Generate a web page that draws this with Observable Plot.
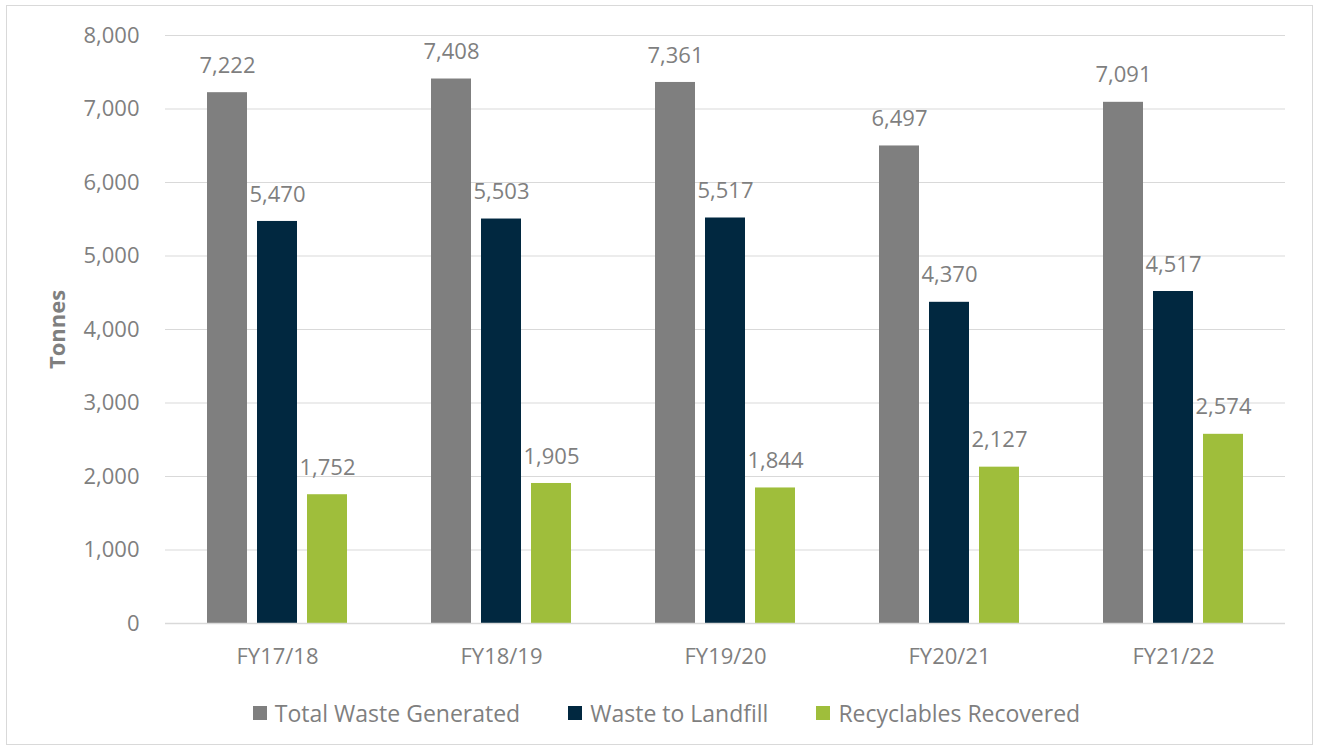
<!DOCTYPE html>
<html>
<head>
<meta charset="utf-8">
<script src="https://cdn.jsdelivr.net/npm/d3@7"></script>
<script src="https://cdn.jsdelivr.net/npm/@observablehq/plot@0.6"></script>
<style>
  html, body { margin: 0; padding: 0; background: #fff; }
  body { width: 1317px; height: 749px; position: relative; overflow: hidden; font-family: "Open Sans", sans-serif; }
  #frame { position: absolute; left: 6px; top: 5px; width: 1305px; height: 738px; border: 1px solid #d9d9d9; }
  #chart { position: absolute; left: 0; top: 0; }
  #legend { position: absolute; left: 7px; top: 691px; width: 1305px; display: flex; justify-content: center; align-items: center; font-size: 23px; color: #7f7f7f; }
  .item { display: flex; align-items: center; margin: 0 24px; }
  .sw { width: 14px; height: 14px; margin-right: 8px; }
</style>
</head>
<body>
<div id="frame">
  <div id="chart"></div>
  <div id="legend"></div>
</div>
<script>
const years = ["FY17/18", "FY18/19", "FY19/20", "FY20/21", "FY21/22"];
const seriesNames = ["Total Waste Generated", "Waste to Landfill", "Recyclables Recovered"];
const totalWaste = [7222, 7408, 7361, 6497, 7091];
const landfill = [5470, 5503, 5517, 4370, 4517];
const recyclables = [1752, 1905, 1844, 2127, 2574];
const colors = ["#7f7f7f", "#012840", "#9fbe3b"];
const yTicks = [0, 1000, 2000, 3000, 4000, 5000, 6000, 7000, 8000];

const seriesValues = [totalWaste, landfill, recyclables];
const data = [];
years.forEach((y, i) => {
  seriesNames.forEach((s, j) => data.push({year: y, series: s, value: seriesValues[j][i]}));
});

const fmt = d3.format(",");
const textColor = "#7f7f7f";

const chart = Plot.plot({
  width: 1305,
  height: 680,
  marginLeft: 158,
  marginRight: 27,
  marginTop: 29,
  marginBottom: 63,
  style: { fontFamily: "Open Sans, sans-serif", fontSize: "22px", color: textColor, background: "transparent" },
  fx: { domain: years, padding: 0, label: null },
  x: { domain: seriesNames, paddingInner: 0.2, paddingOuter: 0.838, axis: null },
  y: { domain: [0, 8000] },
  color: { domain: seriesNames, range: colors },
  marks: [
    Plot.gridY(yTicks, { stroke: "#d9d9d9", strokeOpacity: 1, strokeWidth: 1.2 }),
    Plot.barY(data, { fx: "year", x: "series", y: "value", fill: "series" }),
    Plot.text(data, { fx: "year", x: "series", y: "value", text: d => fmt(d.value), dy: -27, fill: textColor }),
    Plot.ruleY([0], { stroke: "#d9d9d9", strokeWidth: 1.5 }),
    Plot.axisY(yTicks, { tickFormat: fmt, tickSize: 0, tickPadding: 26, label: "Tonnes", labelAnchor: "center", labelArrow: "none", labelOffset: 116 }),
    Plot.axisFx({ anchor: "bottom", tickSize: 0, tickPadding: 25, label: null })
  ]
});
document.getElementById("chart").appendChild(chart);

chart.querySelectorAll("text").forEach(t => {
  if (t.textContent === "Tonnes") { t.setAttribute("font-weight", "bold"); t.setAttribute("fill", "#7f7f7f"); }
});

const legend = document.getElementById("legend");
seriesNames.forEach((s, i) => {
  const item = document.createElement("div");
  item.className = "item";
  const sw = document.createElement("div");
  sw.className = "sw";
  sw.style.background = colors[i];
  const label = document.createElement("span");
  label.textContent = s;
  item.appendChild(sw);
  item.appendChild(label);
  legend.appendChild(item);
});
</script>
</body>
</html>
